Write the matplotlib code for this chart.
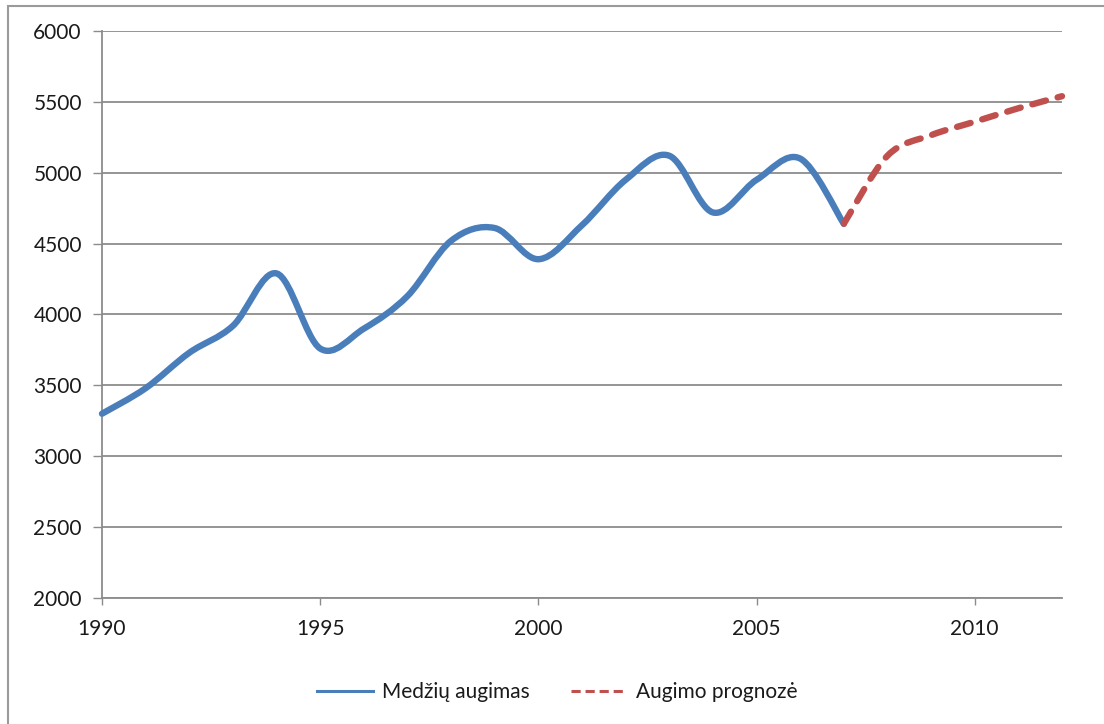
"""Tree growth 1990-2007 with a growth forecast to 2012 (smoothed lines)."""

import numpy as np
import matplotlib
matplotlib.use("Agg")
import matplotlib.pyplot as plt
from matplotlib.path import Path
from matplotlib.patches import PathPatch, Rectangle
from matplotlib.lines import Line2D

plt.rcParams["font.family"] = ["Lato", "DejaVu Sans"]

# measured series
years_obs = [1990, 1991, 1992, 1993, 1994, 1995, 1996, 1997, 1998,
             1999, 2000, 2001, 2002, 2003, 2004, 2005, 2006, 2007]
growth_obs = [3300, 3480, 3730, 3920, 4290, 3760, 3900, 4130, 4520,
              4610, 4390, 4630, 4950, 5120, 4720, 4950, 5100, 4640]

# forecast series
years_fc = [2007, 2008, 2009, 2010, 2011, 2012]
growth_fc = [4640, 5120, 5265, 5360, 5455, 5540]

label_obs = "Medžių augimas"
label_fc = "Augimo prognozė"

BLUE = "#4A7EBB"
RED = "#C0504D"
GRID = "#8C8C8C"
TEXT = "#1A1A1A"


def smooth_path(x, y):
    """Cubic Bezier path through every point (Catmull-Rom tangents)."""
    p = np.column_stack([x, y]).astype(float)
    n = len(p)
    verts = [p[0]]
    codes = [Path.MOVETO]
    for i in range(n - 1):
        p0 = p[i - 1] if i > 0 else p[i]
        p3 = p[i + 2] if i + 2 < n else p[i + 1]
        c1 = p[i] + (p[i + 1] - p0) / 6.0
        c2 = p[i + 1] - (p3 - p[i]) / 6.0
        verts += [c1, c2, p[i + 1]]
        codes += [Path.CURVE4] * 3
    return Path(verts, codes)


fig = plt.figure(figsize=(11.04, 7.24), dpi=100)
ax = fig.add_axes([102 / 1104, 1 - 598 / 724, 960 / 1104, 567 / 724])

ax.set_xlim(1990, 2012)
ax.set_ylim(2000, 6000)
ax.set_yticks(np.arange(2000, 6001, 500))
ax.set_xticks([1990, 1995, 2000, 2005, 2010])
ax.yaxis.grid(True, color=GRID, lw=1.3)
ax.set_axisbelow(True)

for side in ("top", "right"):
    ax.spines[side].set_visible(False)
for side in ("left", "bottom"):
    ax.spines[side].set_color(GRID)
    ax.spines[side].set_linewidth(1.3)

ax.tick_params(axis="y", length=6.5, width=1.0, color=GRID, pad=8,
               labelsize=15, labelcolor=TEXT)
ax.tick_params(axis="x", length=5, width=1.0, color=GRID, pad=10,
               labelsize=15, labelcolor=TEXT)

ax.add_patch(PathPatch(smooth_path(years_obs, growth_obs), fill=False,
                       edgecolor=BLUE, lw=4.6, capstyle="round",
                       joinstyle="round", zorder=3, clip_on=False))
ax.add_patch(PathPatch(smooth_path(years_fc, growth_fc), fill=False,
                       edgecolor=RED, lw=4.6, linestyle=(0, (2.2, 1.9)),
                       capstyle="round", joinstyle="round", zorder=3,
                       clip_on=False))

handles = [
    Line2D([], [], color=BLUE, lw=2.2),
    Line2D([], [], color=RED, lw=2.2, linestyle=(0, (3, 1.6))),
]
fig.legend(handles, [label_obs, label_fc], loc="center",
           bbox_to_anchor=(557 / 1104, 1 - 692 / 724), ncol=2, frameon=False,
           fontsize=15, handlelength=2.7, handletextpad=0.4,
           columnspacing=2.0, labelcolor=TEXT)

# chart area border (top and left edges visible)
fig.add_artist(Rectangle((8 / 1104, -0.05), 1.2, 1.05 - 6 / 724,
                         transform=fig.transFigure, fill=False,
                         edgecolor="#9A9A9A", lw=1.5))

fig.savefig("out.png", dpi=100, facecolor="white")
